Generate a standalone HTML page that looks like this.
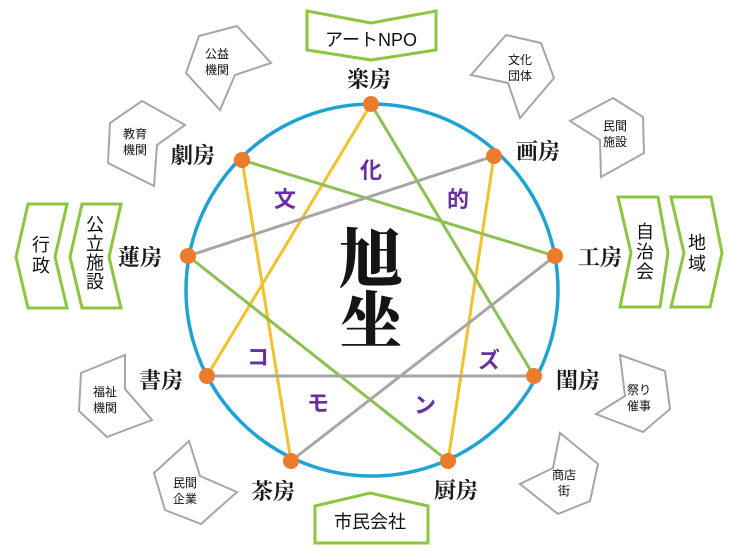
<!DOCTYPE html>
<html><head><meta charset="utf-8"><style>
html,body{margin:0;padding:0;background:#fff;width:736px;height:553px;overflow:hidden}
svg{display:block}
.sans{font-family:"Liberation Sans","Noto Sans CJK JP",sans-serif;fill:#111}
.ser{font-family:"Liberation Serif","Noto Serif CJK SC",serif;font-weight:bold;fill:#1a1a1a;font-size:22px}
.pu{font-family:"Liberation Sans","Noto Sans CJK JP",sans-serif;font-weight:bold;fill:#6a2ea0;font-size:22px}
</style></head><body>
<svg width="736" height="553" viewBox="0 0 736 553" xmlns="http://www.w3.org/2000/svg">
<circle cx="372" cy="290" r="186" fill="none" stroke="#1fa3d3" stroke-width="3.5"/>
<g stroke-width="3" fill="none">
<line x1="371" y1="104" x2="207" y2="376" stroke="#f2c22c"/>
<line x1="242" y1="160" x2="291" y2="461" stroke="#f2c22c"/>
<line x1="494" y1="156" x2="448" y2="461" stroke="#f2c22c"/>
<line x1="242" y1="160" x2="555" y2="256" stroke="#8cc152"/>
<line x1="371" y1="104" x2="534" y2="376" stroke="#8cc152"/>
<line x1="188" y1="256" x2="448" y2="461" stroke="#8cc152"/>
<line x1="188" y1="256" x2="494" y2="156" stroke="#a6a6a6"/>
<line x1="207" y1="376" x2="534" y2="376" stroke="#a6a6a6"/>
<line x1="555" y1="256" x2="291" y2="461" stroke="#a6a6a6"/>
</g>
<g fill="#ec7b2e">
<circle cx="371" cy="104" r="8"/><circle cx="494" cy="156" r="8"/><circle cx="555" cy="256" r="8"/>
<circle cx="534" cy="376" r="8"/><circle cx="448" cy="461" r="8"/><circle cx="291" cy="461" r="8"/>
<circle cx="207" cy="376" r="8"/><circle cx="188" cy="256" r="8"/><circle cx="242" cy="160" r="8"/>
</g>
<g class="ser">
<text x="347" y="87">楽房</text><text x="516" y="159">画房</text><text x="578" y="265">工房</text>
<text x="556" y="388">閨房</text><text x="434" y="498">厨房</text><text x="251" y="499">茶房</text>
<text x="139" y="388">書房</text><text x="118" y="265">蓮房</text><text x="171" y="163">劇房</text>
</g>
<g class="pu">
<text x="274" y="207">文</text><text x="360" y="178">化</text><text x="447" y="207">的</text>
<text x="247" y="365">コ</text><text x="307" y="411">モ</text><text x="414" y="413">ン</text><text x="478" y="368">ズ</text>
</g>
<text x="371" y="282" text-anchor="middle" style="font-family:'Noto Serif CJK SC',serif;font-weight:900;font-size:64px;fill:#151515">旭</text>
<text x="371" y="343" text-anchor="middle" style="font-family:'Noto Serif CJK SC',serif;font-weight:900;font-size:62px;fill:#151515">坐</text>
<g fill="none" stroke="#8cc63f" stroke-width="3">
<polygon points="307,11 371,23 436,11 436,50 371,60 307,50"/>
<polygon points="28,204 67,204 55,257 67,308 28,308 16,257"/>
<polygon points="82,204 121,204 109,257 121,308 82,308 70,257"/>
<polygon points="618,197 658,197 668,253 660,307 620,307 631,253"/>
<polygon points="671,197 711,197 722,253 710,307 671,307 684,253"/>
<polygon points="315,506 370,493 428,506 428,543 315,543"/>
</g>
<g class="sans" font-size="18">
<text x="371" y="46" text-anchor="middle">アートNPO</text>
<text x="370" y="528" text-anchor="middle">市民会社</text>
<text x="41" y="251" text-anchor="middle">行</text><text x="41" y="272" text-anchor="middle">政</text>
<text x="95" y="231" text-anchor="middle">公</text><text x="95" y="250" text-anchor="middle">立</text><text x="95" y="269" text-anchor="middle">施</text><text x="95" y="288" text-anchor="middle">設</text>
<text x="645" y="238" text-anchor="middle">自</text><text x="645" y="258" text-anchor="middle">治</text><text x="645" y="278" text-anchor="middle">会</text>
<text x="697" y="249" text-anchor="middle">地</text><text x="697" y="270" text-anchor="middle">域</text>
</g>
<g fill="#fff" stroke="#a6a6a6" stroke-width="2">
<polygon points="237,26 271,63 235,75 220,110 186,73 199,36"/>
<polygon points="142,101 185,125 157,145 154,186 108,163 110,123"/>
<polygon points="506,35 541,43 554,78 520,118 508,83 471,75"/>
<polygon points="613,98 643,117 644,153 601,177 600,140 570,121"/>
<polygon points="620,355 665,371 670,409 643,432 596,414 625,396"/>
<polygon points="560,433 598,464 590,501 558,514 520,484 553,468"/>
<polygon points="125,355 125,389 152,420 107,437 79,411 81,373"/>
<polygon points="189,441 200,476 237,492 201,524 165,510 154,473"/>
</g>
<g class="sans" font-size="12" text-anchor="middle">
<text x="217" y="58">公益</text><text x="217" y="74">機関</text>
<text x="135" y="138">教育</text><text x="135" y="154">機関</text>
<text x="520" y="64">文化</text><text x="520" y="80">団体</text>
<text x="615" y="130">民間</text><text x="615" y="146">施設</text>
<text x="639" y="394">祭り</text><text x="639" y="410">催事</text>
<text x="564" y="479">商店</text><text x="564" y="495">街</text>
<text x="105" y="396">福祉</text><text x="105" y="412">機関</text>
<text x="185" y="487">民間</text><text x="185" y="503">企業</text>
</g>
</svg>
</body></html>
